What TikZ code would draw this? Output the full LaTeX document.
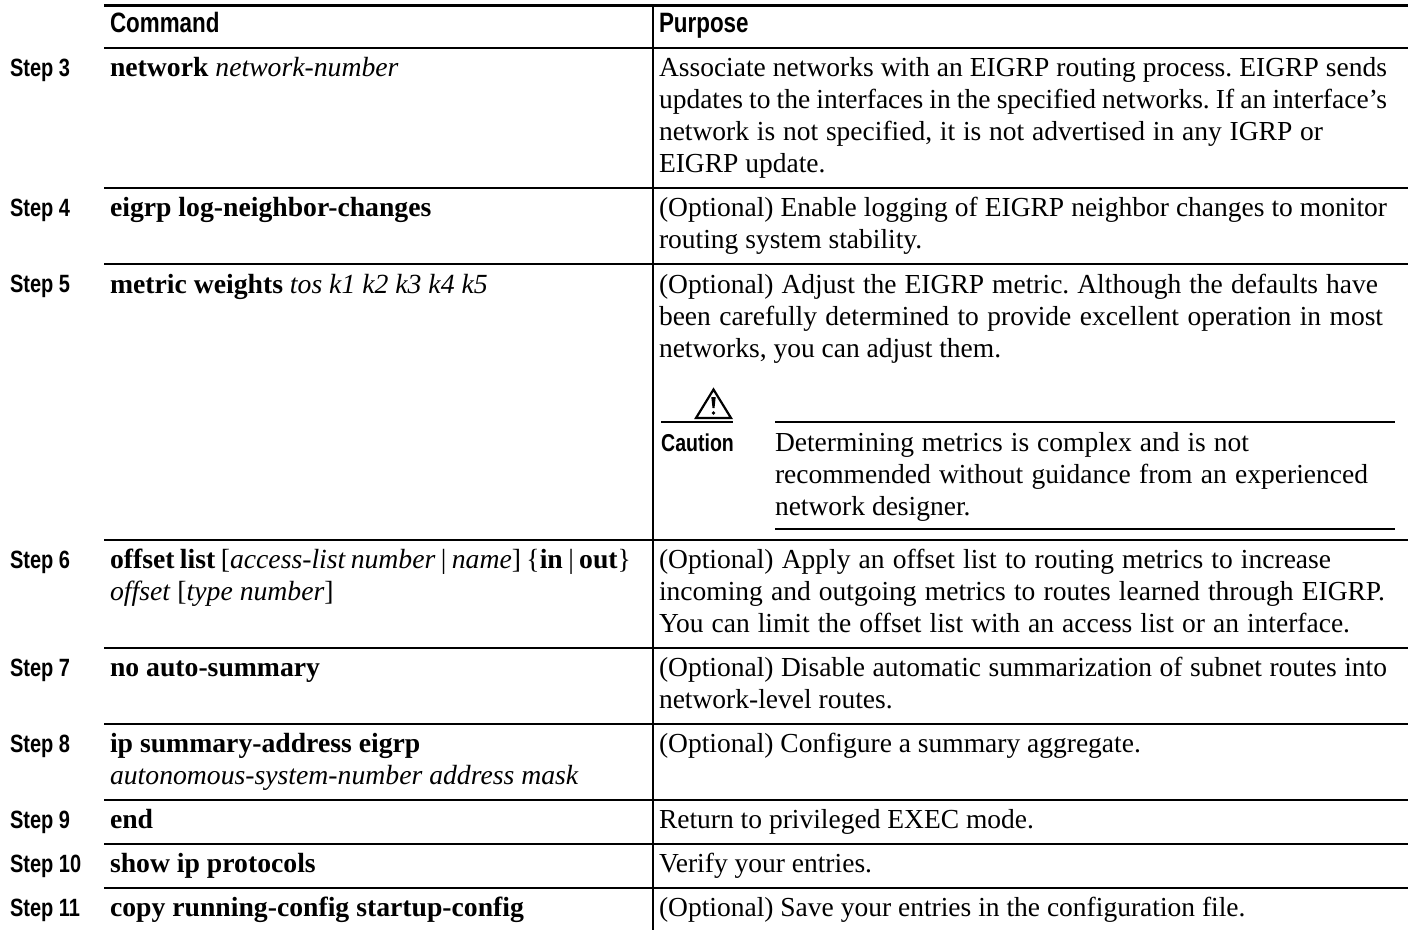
\documentclass[tikz,border=0pt]{standalone}
\usepackage{fontspec}
\setmainfont{Liberation Serif}
\newfontfamily\cond[FakeStretch=0.8]{Liberation Sans}
\newcommand{\tfs}{\fontsize{27.5}{32}\selectfont\frenchspacing}
\newcommand{\cfs}{\fontsize{27.7}{32}\selectfont\frenchspacing}
\newcommand{\fitw}[2]{\makebox[#1pt][s]{#2}}
\begin{document}
\begin{tikzpicture}[x=1pt,y=-1pt,
  txt/.style={anchor=base west,inner sep=0pt,outer sep=0pt,font=\tfs},
  cmdtxt/.style={anchor=base west,inner sep=0pt,outer sep=0pt,font=\cfs},
  steplabel/.style={anchor=base west,inner sep=0pt,outer sep=0pt,font=\cond\bfseries\fontsize{25}{28}\selectfont},
  headlabel/.style={anchor=base west,inner sep=0pt,outer sep=0pt,font=\cond\bfseries\fontsize{28}{32}\selectfont},
  rule/.style={line width=1.3pt,black}]
\useasboundingbox (0,0) rectangle (1408,930);
\fill[white] (0,0) rectangle (1408,930);
% rules
\draw[line width=2.8pt] (104,5.8) -- (1408,5.8);
\foreach \y in {48,188,264,540,648,724,800,844,888} \draw[rule] (104,\y) -- (1408,\y);
\draw[rule] (653,6) -- (653,930);
% header
\node[headlabel] (hc) at (110,32) {Command};
\node[headlabel] (hp) at (659,32) {Purpose};
% steps
\node[steplabel] (s3) at (10,76) {Step 3};
\node[steplabel] (s4) at (10,216) {Step 4};
\node[steplabel] (s5) at (10,292) {Step 5};
\node[steplabel] (s6) at (10,568) {Step 6};
\node[steplabel] (s7) at (10,676) {Step 7};
\node[steplabel] (s8) at (10,752) {Step 8};
\node[steplabel] (s9) at (10,828) {Step 9};
\node[steplabel] (s10) at (10,872) {Step 10};
\node[steplabel] (s11) at (10,916) {Step 11};
% commands
\node[cmdtxt] (c3) at (110,76) {\textbf{network} \textit{network-number}};
\node[cmdtxt] (c4) at (110,216) {\textbf{eigrp log-neighbor-changes}};
\node[cmdtxt] (c5) at (110,293) {\textbf{metric weights} \textit{tos k1 k2 k3 k4 k5}};
\node[cmdtxt] (c6a) at (110,568) {\fitw{521}{\textbf{offset list} [\textit{access-list number} | \textit{name}] \{\textbf{in} | \textbf{out}\}}};
\node[cmdtxt] (c6b) at (110,600) {\textit{offset} [\textit{type number}]};
\node[cmdtxt] (c7) at (110,676) {\textbf{no auto-summary}};
\node[cmdtxt] (c8a) at (110,752) {\textbf{ip summary-address eigrp}};
\node[cmdtxt] (c8b) at (110,784) {\textit{autonomous-system-number address mask}};
\node[cmdtxt] (c9) at (110,828) {\textbf{end}};
\node[cmdtxt] (c10) at (110,872) {\textbf{show ip protocols}};
\node[cmdtxt] (c11) at (110,916) {\textbf{copy running-config startup-config}};
% purpose
\node[txt] (p3a) at (659,76) {\fitw{728}{Associate networks with an EIGRP routing process. EIGRP sends}};
\node[txt] (p3b) at (659,108) {\fitw{728}{updates to the interfaces in the specified networks. If an interface’s}};
\node[txt] (p3c) at (659,140) {\fitw{664}{network is not specified, it is not advertised in any IGRP or}};
\node[txt] (p3d) at (659,172) {EIGRP update.};
\node[txt] (p4a) at (659,216) {\fitw{728}{(Optional) Enable logging of EIGRP neighbor changes to monitor}};
\node[txt] (p4b) at (659,248) {routing system stability.};
\node[txt] (p5a) at (659,293) {\fitw{719}{(Optional) Adjust the EIGRP metric. Although the defaults have}};
\node[txt] (p5b) at (659,325) {\fitw{724}{been carefully determined to provide excellent operation in most}};
\node[txt] (p5c) at (659,357) {networks, you can adjust them.};
\node[txt] (p6a) at (659,568) {\fitw{672}{(Optional) Apply an offset list to routing metrics to increase}};
\node[txt] (p6b) at (659,600) {\fitw{726}{incoming and outgoing metrics to routes learned through EIGRP.}};
\node[txt] (p6c) at (659,632) {\fitw{691}{You can limit the offset list with an access list or an interface.}};
\node[txt] (p7a) at (659,676) {\fitw{728}{(Optional) Disable automatic summarization of subnet routes into}};
\node[txt] (p7b) at (659,708) {network-level routes.};
\node[txt] (p8) at (659,752) {(Optional) Configure a summary aggregate.};
\node[txt] (p9) at (659,828) {Return to privileged EXEC mode.};
\node[txt] (p10) at (659,872) {Verify your entries.};
\node[txt] (p11) at (659,916) {(Optional) Save your entries in the configuration file.};
% caution
\draw[line width=2.2pt,line join=miter] (713.5,389.5) -- (696,418) -- (731,418) -- cycle;
\fill (711.3,397) -- (715.7,397) -- (714.5,408) -- (712.5,408) -- cycle;
\fill (713.5,413) circle (1.9);
\draw[line width=2.2pt] (661,422) -- (733,422);
\draw[rule] (775,422) -- (1395,422);
\draw[rule] (775,529) -- (1395,529);
\node[anchor=base west,inner sep=0pt,font=\cond\bfseries\fontsize{24.4}{28}\selectfont] (cau) at (661,451) {Caution};
\node[txt] (ca) at (775,451) {\fitw{474}{Determining metrics is complex and is not}};
\node[txt] (cb) at (775,483) {\fitw{593}{recommended without guidance from an experienced}};
\node[txt] (cc) at (775,515) {network designer.};
\end{tikzpicture}
\end{document}
